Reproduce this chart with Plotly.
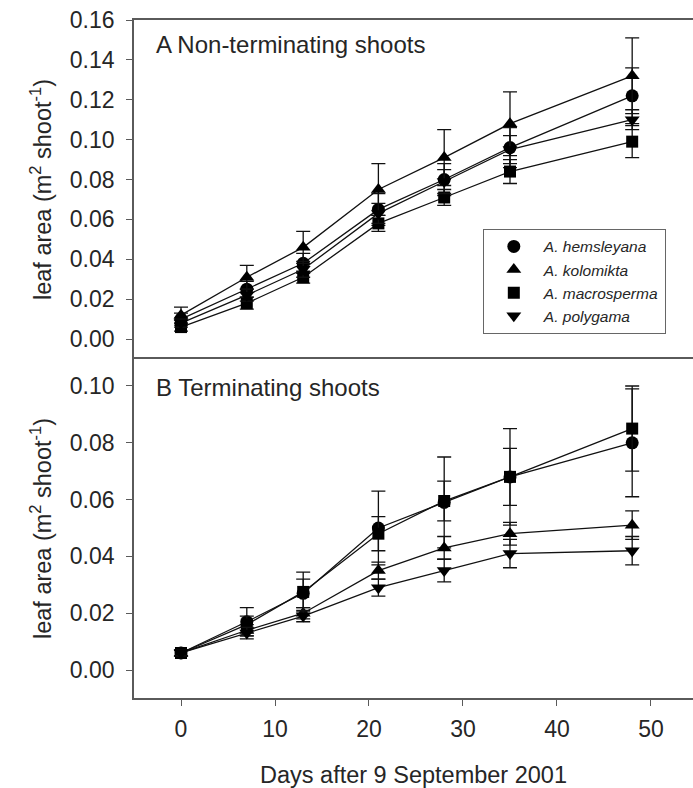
import plotly.graph_objects as go

days = [0, 7, 13, 21, 28, 35, 48]

species = ["A. hemsleyana", "A. kolomikta", "A. macrosperma", "A. polygama"]
symbols = ["circle", "triangle-up", "square", "triangle-down"]

# Panel A: non-terminating shoots
hem_A = [0.010, 0.025, 0.038, 0.065, 0.080, 0.096, 0.122]
kol_A = [0.012, 0.031, 0.046, 0.075, 0.091, 0.108, 0.132]
mac_A = [0.006, 0.018, 0.031, 0.058, 0.071, 0.084, 0.099]
pol_A = [0.008, 0.022, 0.035, 0.063, 0.079, 0.095, 0.110]
hem_A_err = [0.003, 0.004, 0.005, 0.008, 0.008, 0.010, 0.014]
kol_A_err = [0.004, 0.006, 0.008, 0.013, 0.014, 0.016, 0.019]
mac_A_err = [0.002, 0.003, 0.003, 0.004, 0.004, 0.006, 0.008]
pol_A_err = [0.002, 0.003, 0.004, 0.005, 0.006, 0.007, 0.005]

# Panel B: terminating shoots
hem_B = [0.006, 0.017, 0.027, 0.050, 0.059, 0.068, 0.080]
kol_B = [0.006, 0.014, 0.020, 0.035, 0.043, 0.048, 0.051]
mac_B = [0.006, 0.016, 0.0275, 0.048, 0.0595, 0.068, 0.085]
pol_B = [0.006, 0.013, 0.019, 0.029, 0.035, 0.041, 0.042]
hem_B_err = [0.001, 0.005, 0.005, 0.013, 0.016, 0.017, 0.019]
kol_B_err = [0.001, 0.002, 0.002, 0.003, 0.004, 0.004, 0.005]
mac_B_err = [0.001, 0.003, 0.007, 0.006, 0.007, 0.010, 0.015]
pol_B_err = [0.001, 0.002, 0.002, 0.003, 0.004, 0.005, 0.005]

yticks_A = [0.00, 0.02, 0.04, 0.06, 0.08, 0.10, 0.12, 0.14, 0.16]
yticks_B = [0.00, 0.02, 0.04, 0.06, 0.08, 0.10]
xticks = [0, 10, 20, 30, 40, 50]

FONT = "Liberation Sans, Arial, sans-serif"
TXT = "#262626"
AX = "#5a5a5a"

fig = go.Figure()

panelA = [hem_A, kol_A, mac_A, pol_A]
panelA_err = [hem_A_err, kol_A_err, mac_A_err, pol_A_err]
panelB = [hem_B, kol_B, mac_B, pol_B]
panelB_err = [hem_B_err, kol_B_err, mac_B_err, pol_B_err]

msize = {"circle": 13, "triangle-up": 13, "square": 12, "triangle-down": 13}

for vals, errs, xa, ya in [(panelA, panelA_err, "x", "y"), (panelB, panelB_err, "x2", "y2")]:
    for name, sym, v, e in zip(species, symbols, vals, errs):
        fig.add_trace(go.Scatter(
            x=days, y=v, mode="lines+markers", name=name, showlegend=False,
            xaxis=xa, yaxis=ya,
            line=dict(color="#111111", width=1.3),
            marker=dict(symbol=sym, size=msize[sym], color="black"),
            error_y=dict(type="data", array=e, visible=True, color="#111111",
                         thickness=1.3, width=7),
        ))

# legend-only entries (markers only)
for name, sym in zip(species, symbols):
    fig.add_trace(go.Scatter(
        x=[None], y=[None], mode="markers", name="<i>" + name + "</i>", xaxis="x", yaxis="y",
        marker=dict(symbol=sym, size=msize[sym], color="black"),
    ))

xr = [-5, 54.47]
TICK = 23
TITLE = 23.5
common_y = dict(showline=True, linecolor=AX, linewidth=1.6, ticks="outside", ticklen=6,
                tickcolor=AX, tickwidth=1.3, showgrid=False, zeroline=False,
                tickformat=".2f", tickfont=dict(family=FONT, size=TICK, color=TXT),
                ticklabelstandoff=7)
ytitle = "leaf area (m<sup>2</sup> shoot<sup>-1</sup>)"
fig.update_layout(
    width=693, height=788,
    margin=dict(l=134, r=0, t=20, b=90),
    paper_bgcolor="white", plot_bgcolor="white",
    font=dict(family=FONT, color=TXT),
    xaxis=dict(domain=[0, 1], anchor="y", range=xr, side="top", showline=True, mirror=False,
               linecolor=AX, linewidth=1.6, showticklabels=False, ticks="",
               showgrid=False, zeroline=False),
    yaxis=dict(domain=[0.5, 1], anchor="x", range=[-0.01, 0.16], tickvals=yticks_A,
               title=dict(text=ytitle, font=dict(family=FONT, size=TITLE, color=TXT), standoff=12),
               **common_y),
    xaxis2=dict(domain=[0, 1], anchor="y2", range=xr, showline=True, mirror=True,
                linecolor=AX, linewidth=1.8, ticks="outside", ticklen=6, tickcolor=AX,
                tickwidth=1.3, tickvals=xticks, showgrid=False, zeroline=False,
                tickfont=dict(family=FONT, size=TICK, color=TXT), ticklabelstandoff=3,
                title=dict(text="Days after 9 September 2001",
                           font=dict(family=FONT, size=TITLE, color=TXT), standoff=29)),
    yaxis2=dict(domain=[0, 0.5], anchor="x2", range=[-0.00985, 0.1095], tickvals=yticks_B,
                title=dict(text=ytitle, font=dict(family=FONT, size=TITLE, color=TXT), standoff=12),
                **common_y),
    legend=dict(x=0.624, y=0.692, xanchor="left", yanchor="top",
                bordercolor="#666666", borderwidth=1, bgcolor="white",
                font=dict(family=FONT, size=15.5, color=TXT), itemwidth=50,
                tracegroupgap=0),
    annotations=[
        dict(text="A Non-terminating shoots", xref="paper", yref="paper",
             x=0.036, y=0.9646, xanchor="left", yanchor="middle", showarrow=False,
             font=dict(family=FONT, size=24, color=TXT)),
        dict(text="B Terminating shoots", xref="paper", yref="paper",
             x=0.036, y=0.4587, xanchor="left", yanchor="middle", showarrow=False,
             font=dict(family=FONT, size=24, color=TXT)),
    ],
)

fig.write_html("out.html")
